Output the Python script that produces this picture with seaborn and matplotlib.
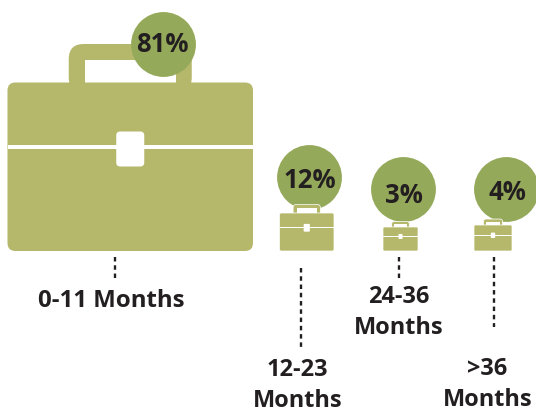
import pandas as pd
import matplotlib
matplotlib.use('Agg')
import matplotlib.pyplot as plt
from matplotlib.patches import FancyBboxPatch, Rectangle
import seaborn as sns

# values
categories = ['0-11 Months', '12-23\nMonths', '24-36\nMonths', '>36\nMonths']
percents = [81, 12, 3, 4]

# layout, in pixels of the 536x412 picture
case_left = [7.5, 279.5, 383, 474]
case_right = [253, 334, 418, 512]
case_top = [82.5, 213, 227, 225]
case_bottom = 251
circle_x = [163, 309, 403, 506]
circle_y = [44, 177, 189, 189]
pct_x = [162.5, 309.5, 403.5, 507.5]
pct_y = [44, 180, 195, 192]
dot_x = [114.5, 301, 398.5, 494]
dot_top = [257, 268, 257, 257]
dot_bottom = [281, 349, 281, 327]
label_x = [111, 297.5, 398.5, 487.5]
label_y = [301, 385.5, 312.5, 384.5]
label_size = [17.3, 16.9, 16.9, 16.9]

CASE = '#b5b86b'
CIRCLE = '#95a95b'
INK = '#231f20'

sns.set_style('white')
plt.rcParams['font.family'] = ['Open Sans', 'DejaVu Sans']


def briefcase(ax, x0, x1, y0, y1, z, edge):
    w = x1 - x0
    h = y1 - y0
    k = w / 245.5
    cx = (x0 + x1) / 2
    # handle
    hw = 61.5 * k
    ht = 38.5 * k
    th = 16 * k
    ax.add_patch(FancyBboxPatch((cx - hw, y0 - ht), 2 * hw, ht + 10 * k,
                                boxstyle=f'round,pad=0,rounding_size={15 * k}',
                                fc=CASE, ec=edge, lw=0.5, zorder=z))
    ax.add_patch(Rectangle((cx - hw + th, y0 - ht + th), 2 * (hw - th), ht,
                           fc='white', ec='none', zorder=z))
    # body
    ax.add_patch(FancyBboxPatch((x0, y0), w, h,
                                boxstyle=f'round,pad=0,rounding_size={max(8 * k, 1.2)}',
                                fc=CASE, ec=edge, lw=0.5, zorder=z))
    # stripe and clasp
    ax.add_patch(Rectangle((x0, y0 + 0.368 * h), w, max(4 * k, 1.0),
                           fc='white', ec='none', zorder=z))
    ax.add_patch(FancyBboxPatch((cx - 14 * k, y0 + 49 * k), 28 * k, 35 * k,
                                boxstyle=f'round,pad=0,rounding_size={4 * k}',
                                fc='white', ec='none', zorder=z))


def main():
    fig = plt.figure(figsize=(5.36, 4.12), dpi=100)
    ax = fig.add_axes([0, 0, 1, 1])

    df = pd.DataFrame({'x': circle_x, 'y': circle_y})
    sns.scatterplot(data=df, x='x', y='y', s=2180, color=CIRCLE, linewidth=0,
                    legend=False, ax=ax, zorder=3)

    for i, cat in enumerate(categories):
        # the big case sits under its circle, the small ones over theirs
        z = 2 if i == 0 else 4
        edge = 'none' if i == 0 else 'white'
        briefcase(ax, case_left[i], case_right[i], case_top[i], case_bottom, z, edge)
        ax.text(pct_x[i], pct_y[i], f'{percents[i]}%', ha='center', va='center',
                fontsize=18.5, fontweight='bold', color=INK, zorder=5)
        ax.plot([dot_x[i], dot_x[i]], [dot_top[i], dot_bottom[i]], color=INK,
                lw=1.7, dashes=(1.9, 1.6), dash_capstyle='butt')
        ax.text(label_x[i], label_y[i], cat, ha='center', va='center',
                fontsize=label_size[i], fontweight='bold', color=INK, linespacing=1.38)

    ax.set_xlim(0, 536)
    ax.set_ylim(412, 0)
    ax.axis('off')
    fig.savefig('out.png', dpi=100)


if __name__ == '__main__':
    main()
